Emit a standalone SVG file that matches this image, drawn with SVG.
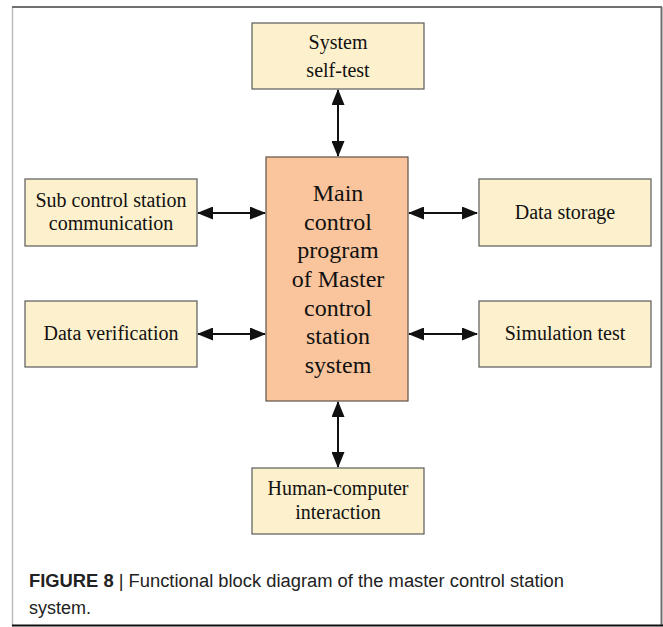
<svg xmlns="http://www.w3.org/2000/svg" width="663" height="627" viewBox="0 0 663 627">
  <style>
    .box { fill: #FDF0CC; stroke: #5a5a5a; stroke-width: 1.2; }
    .main { fill: #FAC59C; stroke: #5f5247; stroke-width: 1.2; }
    .lbl { font-family: "Liberation Serif", "Times New Roman", serif; font-size: 20px; fill: #111; text-anchor: middle; }
    .big { font-family: "Liberation Serif", "Times New Roman", serif; font-size: 24px; fill: #111; text-anchor: middle; }
    .link { stroke: #111; stroke-width: 2; fill: none; marker-start: url(#head); marker-end: url(#head); }
    .cap { font-family: "Liberation Sans", Arial, sans-serif; font-size: 18px; fill: #222; }
  </style>
  <defs>
    <marker id="head" viewBox="0 0 16 13" refX="15" refY="6.5" markerWidth="16" markerHeight="13" markerUnits="userSpaceOnUse" orient="auto-start-reverse">
      <path d="M0,0 L16,6.5 L0,13 Z" fill="#111"/>
    </marker>
  </defs>

  <!-- figure frame -->
  <rect x="0" y="0" width="663" height="627" fill="#fff"/>
  <line x1="12.5" y1="7" x2="12.5" y2="626" stroke="#bdbdbd" stroke-width="1.5"/>
  <line x1="12" y1="7" x2="662" y2="7" stroke="#707070" stroke-width="2"/>
  <line x1="661.5" y1="7" x2="661.5" y2="626" stroke="#707070" stroke-width="2"/>
  <line x1="12" y1="625.5" x2="663" y2="625.5" stroke="#111" stroke-width="2"/>

  <!-- connectors -->
  <g id="connectors">
    <line class="link" x1="338" y1="90" x2="338" y2="156"/>
    <line class="link" x1="338" y1="402" x2="338" y2="467"/>
    <line class="link" x1="198" y1="213" x2="265" y2="213"/>
    <line class="link" x1="409" y1="213" x2="477" y2="213"/>
    <line class="link" x1="198" y1="334" x2="265" y2="334"/>
    <line class="link" x1="409" y1="334" x2="477" y2="334"/>
  </g>

  <g id="self-test">
    <rect class="box" x="252" y="23" width="172" height="66"/>
    <text class="lbl" x="338" y="49">System</text>
    <text class="lbl" x="338" y="77">self-test</text>
  </g>

  <g id="main-program">
    <rect class="main" x="266" y="157" width="142" height="244"/>
    <text class="big" x="338" y="201">Main</text>
    <text class="big" x="338" y="230">control</text>
    <text class="big" x="338" y="258">program</text>
    <text class="big" x="338" y="287">of Master</text>
    <text class="big" x="338" y="316">control</text>
    <text class="big" x="338" y="344">station</text>
    <text class="big" x="338" y="373">system</text>
  </g>

  <g id="sub-comm">
    <rect class="box" x="25" y="179" width="172" height="67"/>
    <text class="lbl" x="111" y="207">Sub control station</text>
    <text class="lbl" x="111" y="230">communication</text>
  </g>

  <g id="data-storage">
    <rect class="box" x="479" y="179" width="172" height="67"/>
    <text class="lbl" x="565" y="219">Data storage</text>
  </g>

  <g id="data-verification">
    <rect class="box" x="25" y="301" width="172" height="66"/>
    <text class="lbl" x="111" y="340">Data verification</text>
  </g>

  <g id="simulation-test">
    <rect class="box" x="479" y="301" width="172" height="66"/>
    <text class="lbl" x="565" y="340">Simulation test</text>
  </g>

  <g id="hci">
    <rect class="box" x="252" y="468" width="172" height="66"/>
    <text class="lbl" x="338" y="495">Human-computer</text>
    <text class="lbl" x="338" y="519">interaction</text>
  </g>

  <!-- caption -->
  <text class="cap" x="29" y="587" textLength="535" lengthAdjust="spacingAndGlyphs"><tspan font-weight="bold">FIGURE 8</tspan> | Functional block diagram of the master control station</text>
  <text class="cap" x="29" y="614">system.</text>
</svg>
